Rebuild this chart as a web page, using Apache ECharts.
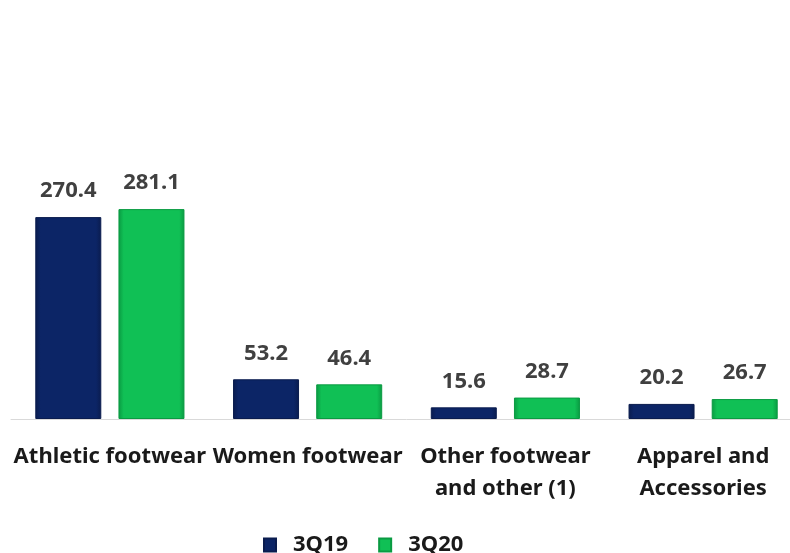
<!DOCTYPE html>
<html>
<head>
<meta charset="utf-8">
<script src="https://cdn.jsdelivr.net/npm/echarts@6/dist/echarts.min.js"></script>
<style>
  html, body { margin: 0; padding: 0; background: #fff; overflow: hidden; }
  #main { width: 802px; height: 553px; }
</style>
</head>
<body>
<div id="main"></div>
<script>
// categories and values
const categories = ['Athletic footwear', 'Women footwear', 'Other footwear\nand other (1)', 'Apparel and\nAccessories'];
const values3Q19 = [270.4, 53.2, 15.6, 20.2];
const values3Q20 = [281.1, 46.4, 28.7, 26.7];

const chart = echarts.init(document.getElementById('main'));

// bevel-ish look for the bars
function barColor(dark, mid) {
  return new echarts.graphic.LinearGradient(0, 0, 1, 0, [
    { offset: 0, color: dark },
    { offset: 0.08, color: mid },
    { offset: 0.92, color: mid },
    { offset: 1, color: dark }
  ]);
}

const FONT = 'Noto Sans, sans-serif';

const labelStyle = {
  show: true,
  position: 'top',
  distance: 15,
  color: '#404040',
  fontWeight: 'bold',
  fontSize: 22,
  fontFamily: FONT,
  formatter: p => p.value.toFixed(1)
};

const option = {
  animation: false,
  grid: {
    left: 11,
    right: 0,
    top: 195,
    bottom: 134
  },
  legend: {
    bottom: -3,
    left: 263,
    padding: 0,
    itemWidth: 12,
    itemHeight: 13,
    itemGap: 30,
    icon: 'rect',
    textStyle: {
      color: '#1a1a1a',
      fontSize: 22,
      fontWeight: 'bold',
      fontFamily: FONT,
      padding: [0, 0, 0, 12]
    },
    data: ['3Q19', '3Q20']
  },
  xAxis: {
    type: 'category',
    data: categories,
    axisLine: { show: true, lineStyle: { color: '#d9d9d9', width: 1 } },
    axisTick: { show: false },
    axisLabel: {
      color: '#1a1a1a',
      fontSize: 22,
      fontWeight: 'bold',
      lineHeight: 32,
      margin: 22,
      interval: 0,
      fontFamily: FONT
    }
  },
  yAxis: {
    type: 'value',
    min: 0,
    max: 300,
    show: false,
    splitLine: { show: false }
  },
  series: [
    {
      name: '3Q19',
      type: 'bar',
      data: values3Q19,
      barWidth: 66,
      barGap: '26%',
      itemStyle: {
        color: barColor('#0a1c4e', '#0c2566'),
        borderColor: '#0a1c4e',
        borderWidth: 1
      },
      label: labelStyle
    },
    {
      name: '3Q20',
      type: 'bar',
      data: values3Q20,
      barWidth: 66,
      itemStyle: {
        color: barColor('#0a9a42', '#10c055'),
        borderColor: '#0a9a42',
        borderWidth: 1
      },
      label: labelStyle
    }
  ]
};

chart.setOption(option);
</script>
</body>
</html>
